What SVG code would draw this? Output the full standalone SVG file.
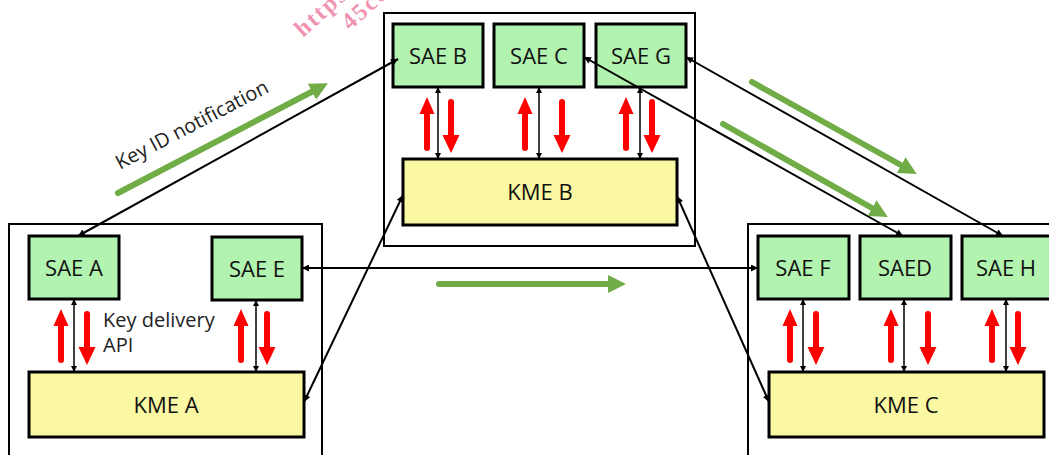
<svg xmlns="http://www.w3.org/2000/svg" width="1049" height="455" viewBox="0 0 1049 455">
<style>
.outer{fill:#fff;stroke:#000;stroke-width:2}
.sae{fill:#B3F3B0;stroke:#000;stroke-width:3}
.kme{fill:#FAF8A2;stroke:#000;stroke-width:3}
.lbl{font-family:"Open Sans","Noto Sans",sans-serif;font-size:22px;fill:#111;text-anchor:middle}
.note{font-family:"Open Sans","Noto Sans",sans-serif;font-size:20px;fill:#222}
.conn{stroke:#000;stroke-width:2;fill:none;marker-start:url(#ah);marker-end:url(#ah)}
.api{stroke:#000;stroke-width:1.5;fill:none;marker-start:url(#as);marker-end:url(#as)}
.green{stroke:#70AD47;stroke-width:6;stroke-linecap:round;fill:none;marker-end:url(#gh)}
.wm{font-family:"Liberation Serif",serif;font-weight:bold;font-size:24px;fill:#EE7FA6;fill-opacity:0.85;letter-spacing:2px}
</style>
<defs>
<marker id="ah" viewBox="0 0 10 10" refX="10" refY="5" markerWidth="9" markerHeight="7" markerUnits="userSpaceOnUse" orient="auto-start-reverse"><path d="M0,0 L10,5 L0,10 z" fill="#000"/></marker>
<marker id="as" viewBox="0 0 10 10" refX="10" refY="5" markerWidth="7" markerHeight="6" markerUnits="userSpaceOnUse" orient="auto-start-reverse"><path d="M0,0 L10,5 L0,10 z" fill="#000"/></marker>
<marker id="gh" viewBox="0 0 10 10" refX="4.4" refY="5" markerWidth="3" markerHeight="3" orient="auto"><path d="M0,0 L10,5 L0,10 z" fill="#70AD47"/></marker>
<g id="ru"><path d="M0,0 L7.5,17 L-7.5,17 z" fill="#FF0000"/><line x1="0" y1="14" x2="0" y2="51" stroke="#FF0000" stroke-width="6" stroke-linecap="round"/></g>
<g id="rd"><path d="M0,0 L8.5,-18 L-8.5,-18 z" fill="#FF0000"/><line x1="0" y1="-15" x2="0" y2="-51" stroke="#FF0000" stroke-width="6" stroke-linecap="round"/></g>
</defs>
<rect width="1049" height="455" fill="#fff"/>
<g id="watermark">
<text class="wm" transform="translate(303,38) rotate(-42)">https://</text>
<text class="wm" transform="translate(350,31) rotate(-42)">45cc</text>
</g>
<g id="domain-b"><rect class="outer" x="384" y="13" width="311" height="233"/></g>
<g id="domain-a"><rect class="outer" x="9" y="224" width="313" height="240"/></g>
<g id="domain-c"><rect class="outer" x="748" y="224" width="310" height="240"/></g>
<g id="sae-b"><rect class="sae" x="393" y="24" width="90" height="63"/><text class="lbl" x="438" y="64">SAE B</text></g>
<g id="sae-c"><rect class="sae" x="494" y="24" width="90" height="63"/><text class="lbl" x="539" y="64">SAE C</text></g>
<g id="sae-g"><rect class="sae" x="596" y="24" width="90" height="63"/><text class="lbl" x="641" y="64">SAE G</text></g>
<g id="kme-b"><rect class="kme" x="403" y="159" width="274" height="66"/><text class="lbl" x="540" y="200">KME B</text></g>
<g id="sae-a"><rect class="sae" x="29" y="236" width="90" height="63"/><text class="lbl" x="74" y="276">SAE A</text></g>
<g id="sae-e"><rect class="sae" x="212" y="237" width="90" height="63"/><text class="lbl" x="257" y="277">SAE E</text></g>
<g id="kme-a"><rect class="kme" x="29" y="372" width="275" height="65"/><text class="lbl" x="166" y="413">KME A</text></g>
<g id="sae-f"><rect class="sae" x="758" y="236" width="91" height="63"/><text class="lbl" x="803" y="276">SAE F</text></g>
<g id="saed"><rect class="sae" x="860" y="236" width="91" height="63"/><text class="lbl" x="905" y="276">SAED</text></g>
<g id="sae-h"><rect class="sae" x="962" y="236" width="91" height="63"/><text class="lbl" x="1006" y="276">SAE H</text></g>
<g id="kme-c"><rect class="kme" x="769" y="372" width="275" height="65"/><text class="lbl" x="906" y="413">KME C</text></g>
<g id="connectors">
<line class="conn" x1="78" y1="236" x2="398" y2="59"/>
<line class="conn" x1="302" y1="268" x2="758" y2="268"/>
<line class="conn" x1="304" y1="402" x2="403" y2="195"/>
<line class="conn" x1="677" y1="196" x2="769" y2="402"/>
<line class="conn" x1="584" y1="57" x2="903" y2="236"/>
<line class="conn" x1="686" y1="57" x2="1003" y2="236"/>
<line class="api" x1="438" y1="87" x2="438" y2="159"/>
<line class="api" x1="539" y1="87" x2="539" y2="159"/>
<line class="api" x1="640" y1="87" x2="640" y2="159"/>
<line class="api" x1="74" y1="299" x2="74" y2="372"/>
<line class="api" x1="256" y1="300" x2="256" y2="372"/>
<line class="api" x1="803" y1="299" x2="803" y2="372"/>
<line class="api" x1="904" y1="299" x2="904" y2="372"/>
<line class="api" x1="1006" y1="299" x2="1006" y2="372"/>
</g>
<g id="flows">
<use href="#ru" x="427" y="97"/><use href="#rd" x="451" y="153"/>
<use href="#ru" x="525" y="97"/><use href="#rd" x="562" y="153"/>
<use href="#ru" x="626" y="97"/><use href="#rd" x="652" y="153"/>
<use href="#ru" x="61" y="309"/><use href="#rd" x="87" y="365"/>
<use href="#ru" x="241" y="309"/><use href="#rd" x="267" y="365"/>
<use href="#ru" x="790" y="309"/><use href="#rd" x="816" y="365"/>
<use href="#ru" x="891" y="309"/><use href="#rd" x="928" y="365"/>
<use href="#ru" x="992" y="309"/><use href="#rd" x="1018" y="365"/>
<line class="green" x1="118" y1="193" x2="319" y2="88"/>
<line class="green" x1="439" y1="284" x2="616" y2="284"/>
<line class="green" x1="752" y1="82" x2="908" y2="169"/>
<line class="green" x1="723" y1="124" x2="879" y2="212"/>
</g>
<g id="labels">
<text class="note" transform="translate(120,170) rotate(-27.6)">Key ID notification</text>
<text class="note" x="103" y="327">Key delivery</text>
<text class="note" x="103" y="352">API</text>
</g>
</svg>
